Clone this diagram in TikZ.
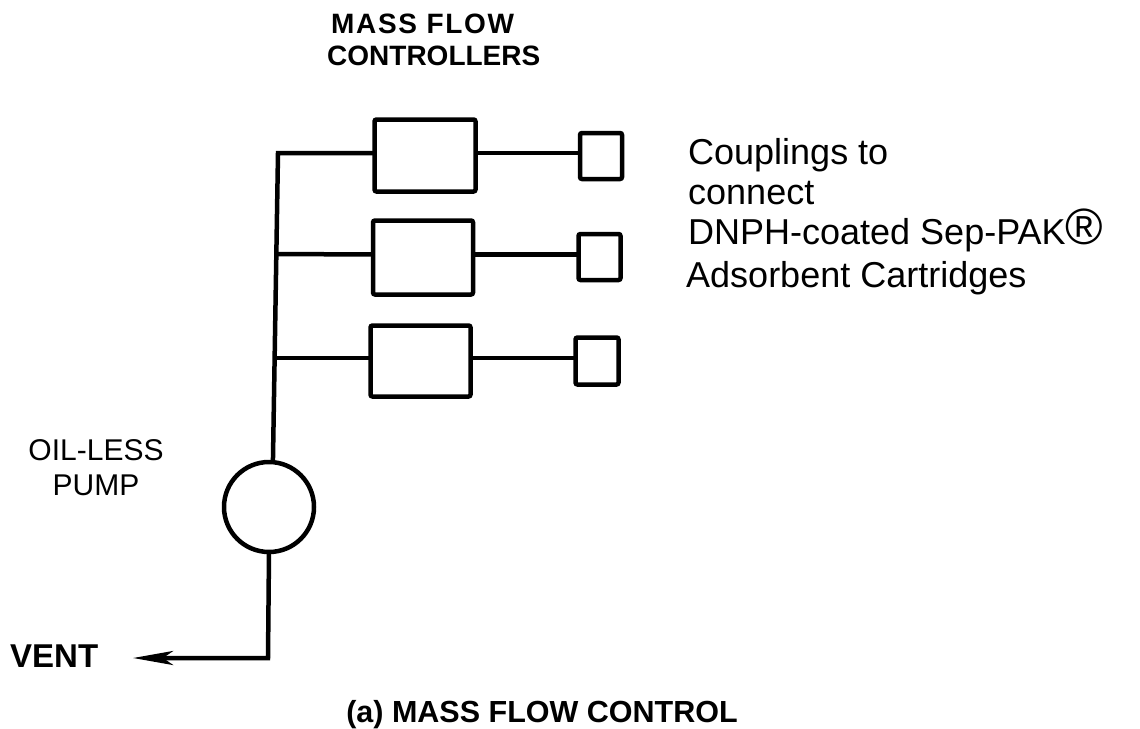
\documentclass[tikz,border=0pt]{standalone}
\usepackage{fontspec}
\setmainfont{Liberation Sans}
\usetikzlibrary{arrows.meta}
\usetikzlibrary{positioning}
\tikzset{
    pipe/.style={line width=4.5pt},
    mfcbox/.style={draw,line width=4.5pt,rounded corners=2pt,outer sep=0pt},
    couplingbox/.style={draw,line width=4.5pt,rounded corners=2pt,outer sep=0pt},
    lbl/.style={font=\fontsize{30pt}{35pt}\selectfont,align=center,inner sep=0pt},
    lblbold/.style={font=\fontsize{28pt}{32pt}\selectfont\bfseries,align=left,inner sep=0pt},
    lbltxt/.style={font=\fontsize{36pt}{41pt}\selectfont,align=left,inner sep=0pt}
}
\begin{document}
\begin{tikzpicture}[x=1pt,y=-1pt]
        \useasboundingbox (0,0) rectangle (1140,728);
        \node[mfcbox,minimum width=101pt,minimum height=72pt] (mfcA) at (425,155.5) {};
        \node[mfcbox,minimum width=100pt,minimum height=74pt] (mfcB) at (423,257.5) {};
        \node[mfcbox,minimum width=100pt,minimum height=71pt] (mfcC) at (420.5,361) {};
        \node[couplingbox,minimum width=42pt,minimum height=46pt] (cplA) at (601,156) {};
        \node[couplingbox,minimum width=42pt,minimum height=46pt] (cplB) at (599.5,257) {};
        \node[couplingbox,minimum width=43pt,minimum height=47pt] (cplC) at (597,361) {};
        \node[draw,circle,line width=4.5pt,minimum size=90pt,inner sep=0pt,outer sep=0pt] (pump) at (269,507) {};
        \coordinate (trunktop) at (278,153);
        \coordinate (jointB) at (276,254);
        \coordinate (jointC) at (275,358);
        \coordinate (corner) at (268,658);
        \coordinate (ventend) at (133,658);
        \draw[pipe,line join=miter] (pump.85) -- (trunktop) -- ([yshift=2.5pt]mfcA.west);
        \draw[pipe] (jointB) -- ([yshift=3pt]mfcB.west);
        \draw[pipe] (jointC) -- ([yshift=3pt]mfcC.west);
        \draw[pipe] ([yshift=2.5pt]mfcA.east) -- ([yshift=3pt]cplA.west);
        \draw[pipe] ([yshift=3pt]mfcB.east) -- ([yshift=2.5pt]cplB.west);
        \draw[pipe] ([yshift=3pt]mfcC.east) -- ([yshift=3pt]cplC.west);
        \draw[pipe,-{Stealth[length=40pt,width=14pt,inset=10pt]}] (pump.south) -- (corner) -- (ventend);
        \node[lblbold,anchor=base west] (title) at (331,33) {\addfontfeature{LetterSpace=6}MASS FLOW};
        \node[lblbold,anchor=base west] (titleb) at (327,65) {CONTROLLERS};
        \node[lbl,anchor=base] (pumplbl) at (96,460) {OIL-LESS};
        \node[lbl,anchor=base] (pumplblb) at (96,495) {PUMP};
        \node[lbl,font=\fontsize{33pt}{33pt}\selectfont\bfseries,anchor=base west] (vent) at (10,667) {VENT};
        \node[lbltxt,anchor=base west] (cplt) at (688,164) {Couplings to};
        \node[lbltxt,anchor=base west] (cplu) at (688,204) {connect};
        \node[lbltxt,anchor=base west] (cplv) at (688,244) {DNPH-coated Sep-PAK{\fontsize{51pt}{51pt}\selectfont ®}};
        \node[lbltxt,anchor=base west] (cplw) at (686,287) {Adsorbent Cartridges};
        \node[lbl,font=\fontsize{30.5pt}{35pt}\selectfont\bfseries,anchor=base] (caption) at (542,722) {(a) MASS FLOW CONTROL};
    \end{tikzpicture}
\end{document}
